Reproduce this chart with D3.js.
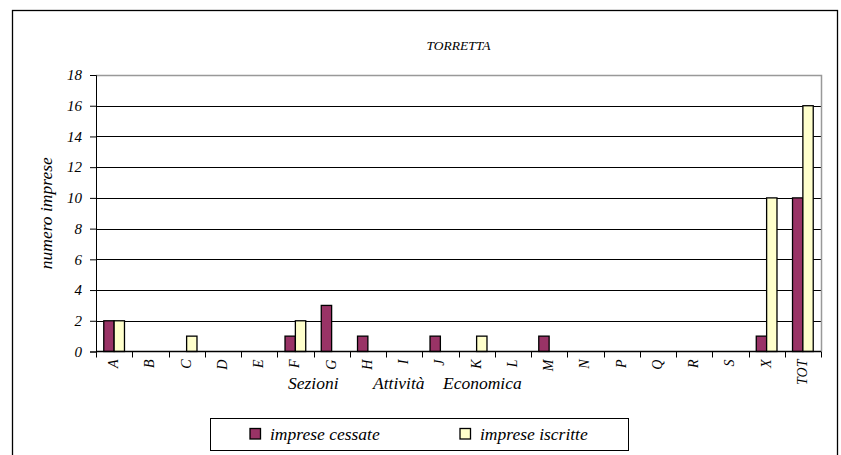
<!DOCTYPE html>
<html><head><meta charset="utf-8">
<script src="https://cdn.jsdelivr.net/npm/d3@7"></script>
</head>
<body style="margin:0"><svg id="c" width="841" height="455"></svg>
<script>
const categories=["A","B","C","D","E","F","G","H","I","J","K","L","M","N","P","Q","R","S","X","TOT"];
const cessate=[2,0,0,0,0,1,3,1,0,1,0,0,1,0,0,0,0,0,1,10];
const iscritte=[2,0,1,0,0,2,0,0,0,0,1,0,0,0,0,0,0,0,10,16];
const yTicks=[0,2,4,6,8,10,12,14,16,18];
const seriesNames=["imprese cessate","imprese iscritte"];
const xTitleWords=["Sezioni","Attività","Economica"];
const colors=["#993366","#FFFFCC"];

function styl(sel,size){return sel.style("font-family",'"Liberation Serif"').style("font-style","italic").style("font-size",size+"px");}

const svg=d3.select("#c");
const L=96,R=821,T=75,B=351.5;
svg.append("rect").attr("x",12.5).attr("y",10.5).attr("width",825).attr("height",460)
  .attr("fill","#fff").attr("stroke","#000").attr("stroke-width",1.3);

const x=d3.scaleBand().domain(categories).range([L,R]);
const y=d3.scaleLinear().domain([0,18]).range([B,T]);
const xs=d3.scaleBand().domain([0,1]).range([0,x.bandwidth()]).paddingInner(0).paddingOuter(0.75);

svg.append("g").selectAll("line").data(yTicks.filter(d=>d>0&&d<18)).join("line")
  .attr("x1",L).attr("x2",R).attr("y1",d=>Math.round(y(d))+0.5).attr("y2",d=>Math.round(y(d))+0.5)
  .attr("stroke","#000").attr("stroke-width",1);
svg.append("path").attr("d",`M${L},${Math.round(T)+0.5}H${R+0.5}V${B}`).attr("fill","none").attr("stroke","#999").attr("stroke-width",1.5);

const data=[cessate,iscritte];
data.forEach((vals,si)=>{
  svg.append("g").selectAll("rect").data(categories.map((c,i)=>({c,v:vals[i]})).filter(d=>d.v>0)).join("rect")
    .attr("x",d=>x(d.c)+xs(si)).attr("width",xs.bandwidth())
    .attr("y",d=>y(d.v)).attr("height",d=>y(0)-y(d.v))
    .attr("fill",colors[si]).attr("stroke","#000").attr("stroke-width",1.3);
});

const ya=svg.append("g").attr("transform",`translate(${L},0)`)
  .call(d3.axisLeft(y).tickValues(yTicks).tickSize(6).tickPadding(8));
ya.attr("font-family",null).attr("font-size",null);
ya.select(".domain").attr("stroke","#000");
styl(ya.selectAll("text"),15);

const xa=svg.append("g").attr("transform",`translate(0,${B})`);
xa.append("line").attr("x1",L).attr("x2",R).attr("stroke","#000").attr("stroke-width",1.3);
const bounds=categories.map(c=>x(c)).concat([R]);
xa.selectAll("line.tk").data(bounds).join("line").attr("class","tk")
  .attr("x1",d=>Math.round(d)+0.5).attr("x2",d=>Math.round(d)+0.5).attr("y1",0).attr("y2",6).attr("stroke","#000");
styl(xa.selectAll("text").data(categories).join("text")
  .attr("transform",d=>`translate(${x(d)+x.bandwidth()/2+4},${8}) rotate(-90)`)
  .attr("text-anchor","end").text(d=>d),14);

styl(svg.append("text").attr("x",(L+R)/2).attr("y",50).attr("text-anchor","middle").text("TORRETTA"),13.5);
styl(svg.append("text").attr("transform",`translate(52,${(T+B)/2}) rotate(-90)`).attr("text-anchor","middle")
  .text("numero imprese"),17.5);
const xt=styl(svg.append("text").attr("y",389),17.5);
const wx=[288,373,443];
xTitleWords.forEach((w,i)=>xt.append("tspan").attr("x",wx[i]).text(w));

const lg=svg.append("g");
lg.append("rect").attr("x",210.5).attr("y",418.5).attr("width",418).attr("height",32).attr("fill","#fff").attr("stroke","#000");
const lx=[250,460];
seriesNames.forEach((n,i)=>{
  lg.append("rect").attr("x",lx[i]).attr("y",428.5).attr("width",10.5).attr("height",10.5).attr("fill",colors[i]).attr("stroke","#000").attr("stroke-width",1.3);
  styl(lg.append("text").attr("x",lx[i]+20).attr("y",440).text(n),17.5);
});
</script></body></html>
